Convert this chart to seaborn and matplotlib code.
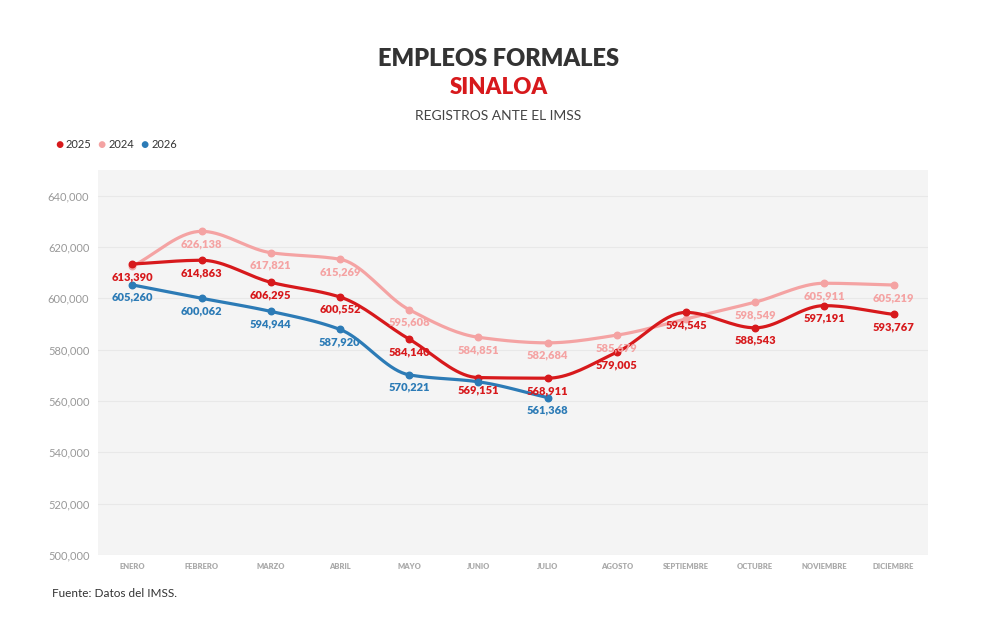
import numpy as np
import seaborn as sns
import matplotlib.pyplot as plt

meses = ["ENERO", "FEBRERO", "MARZO", "ABRIL", "MAYO", "JUNIO", "JULIO",
         "AGOSTO", "SEPTIEMBRE", "OCTUBRE", "NOVIEMBRE", "DICIEMBRE"]
v2024 = [612500, 626138, 617821, 615269, 595608, 584851, 582684, 585679, 592000, 598549, 605911, 605219]
v2025 = [613390, 614863, 606295, 600552, 584140, 569151, 568911, 579005, 594545, 588543, 597191, 593767]
v2026 = [605260, 600062, 594944, 587920, 570221, 567500, 561368]
# which points get a value label
lab2024 = [False, True, True, True, True, True, True, True, False, True, True, True]
lab2026 = [True, True, True, True, True, False, True]

c25, c24, c26 = "#d7191c", "#f4a3a3", "#2c7bb6"

sns.set_theme(style="white")
plt.rcParams["font.family"] = ["Lato", "DejaVu Sans"]


def smooth(y, n=20):
    # monotone cubic (Fritsch-Carlson) just for drawing the curve
    y = np.asarray(y, float)
    x = np.arange(len(y))
    d = np.diff(y)
    m = np.zeros(len(y))
    m[0], m[-1] = d[0], d[-1]
    for i in range(1, len(y) - 1):
        m[i] = 0 if d[i - 1] * d[i] <= 0 else 2 / (1 / d[i - 1] + 1 / d[i])
    xs, ys = [], []
    for i in range(len(y) - 1):
        t = np.linspace(0, 1, n)
        h00 = 2 * t**3 - 3 * t**2 + 1
        h10 = t**3 - 2 * t**2 + t
        h01 = -2 * t**3 + 3 * t**2
        h11 = t**3 - t**2
        xs.append(x[i] + t)
        ys.append(h00 * y[i] + h10 * m[i] + h01 * y[i + 1] + h11 * m[i + 1])
    return np.concatenate(xs), np.concatenate(ys)


fig = plt.figure(figsize=(9.97, 6.3), dpi=100)
ax = fig.add_axes([0.098, 0.119, 0.833, 0.611])
ax.set_facecolor("#f4f4f4")

for vals, col, labs in [(v2024, c24, lab2024), (v2025, c25, [True] * 12), (v2026, c26, lab2026)]:
    sx, sy = smooth(vals)
    sns.lineplot(x=sx, y=sy, ax=ax, color=col, lw=2.3, sort=False)
    ax.scatter(range(len(vals)), vals, color=col, s=22, zorder=5)
    for i, v in enumerate(vals):
        if labs[i]:
            ax.annotate(f"{v:,}", (i, v), xytext=(0, -5), textcoords="offset points",
                        ha="center", va="top", fontsize=8, fontweight="heavy", color=col,
                        zorder=10)

ax.set_xlim(-0.5, 11.5)
ax.set_ylim(500000, 650000)
ax.set_yticks(range(500000, 650000, 20000))
ax.set_yticklabels([f"{t:,}" for t in range(500000, 650000, 20000)], fontsize=8, color="#999999")
ax.set_xticks(range(12))
ax.set_xticklabels(meses, fontsize=5.5, fontweight="heavy", color="#aaaaaa")
ax.grid(axis="y", color="#e8e8e8", lw=0.8)
ax.set_xlabel("")
ax.set_ylabel("")
ax.tick_params(length=0, pad=6)
for s in ax.spines.values():
    s.set_visible(False)

fig.text(0.5, 0.895, "EMPLEOS FORMALES", ha="center", fontsize=17, fontweight="heavy", color="#333333")
fig.text(0.5, 0.85, "SINALOA", ha="center", fontsize=16, fontweight="heavy", color=c25)
fig.text(0.5, 0.81, "REGISTROS ANTE EL IMSS", ha="center", fontsize=10, color="#444444")

lx = 0.055
for name, col in [("2025", c25), ("2024", c24), ("2026", c26)]:
    fig.text(lx, 0.77, "●", color=col, fontsize=10, va="center")
    fig.text(lx + 0.011, 0.77, name, color="#333333", fontsize=8, va="center")
    lx += 0.043

fig.text(0.052, 0.052, "Fuente: Datos del IMSS.", fontsize=8.5, color="#333333")
fig.savefig("out.png", dpi=100, facecolor="white")
